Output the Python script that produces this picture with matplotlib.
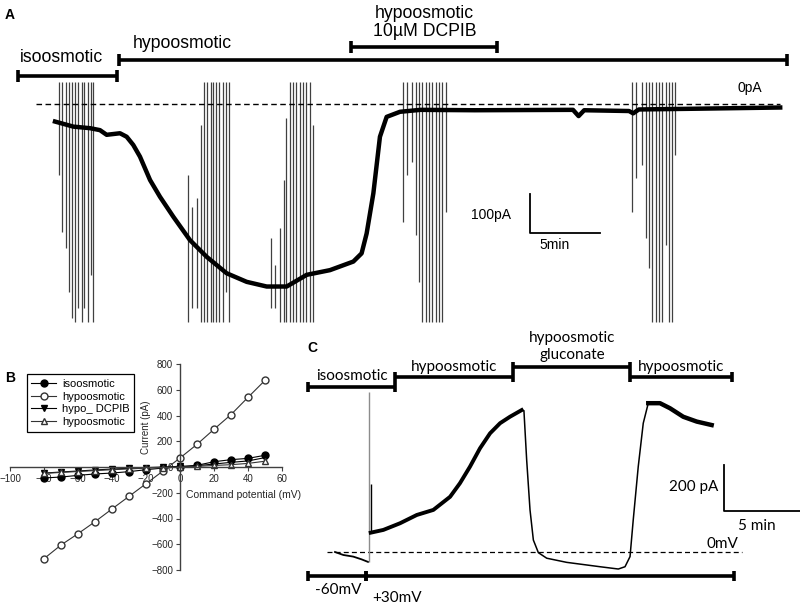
import matplotlib
matplotlib.use("Agg")
import matplotlib.pyplot as plt
import numpy as np

# ---- panel A: whole-cell current trace (min, pA)
a_time = [0, 1.31, 2.5, 3.21, 3.69, 4.64, 5.12, 5.59, 6.07, 6.79, 7.5, 8.45,
          9.64, 10.84, 12.26, 13.69, 15.12, 16.55, 17.98, 19.64, 21.31, 21.9,
          22.26, 22.74, 23.21, 23.69, 24.64, 26.1, 30.0, 37.0, 37.4, 37.8,
          41.0, 41.3, 41.7, 46.0, 51.8]
a_current = [-45, -58, -62, -67, -79, -75, -84, -105, -135, -195, -238, -289,
             -349, -392, -434, -456, -468, -468, -438, -426, -404, -383,
             -332, -229, -84, -33, -20, -15, -16, -15, -31, -16,
             -18, -24, -14, -12, -9]

# voltage-ramp deflections: time, top, bottom (pA)
ramp_time = [0.29, 0.5, 0.79, 1.0, 1.21, 1.43, 1.64, 1.93, 2.07, 2.36, 2.57, 2.71,
             9.5, 9.79, 10.14, 10.43, 10.64, 10.86, 11.14, 11.29, 11.5, 11.71, 12.0, 12.21, 12.43,
             15.43, 15.71, 16.07, 16.36, 16.5, 16.79, 17.0, 17.21, 17.5, 17.71, 17.93, 18.21, 18.43,
             24.86, 25.14, 25.5, 25.79, 26.0, 26.21, 26.5, 26.71, 26.93, 27.21, 27.43, 27.64, 27.93,
             41.21, 41.5, 41.93, 42.21, 42.43, 42.64, 42.93, 43.14, 43.36, 43.64, 43.86, 44.07, 44.29]
ramp_top = [56] * 12 + \
    [-182, -264, -241, -54, 56, 56, 56, 56, 56, 56, 56, 56, 56] + \
    [-344, -413, -318, -195, -36, 56, 56, 56, 56, 56, 56, 56, -54] + \
    [56] * 13 + [56] * 13
ramp_bottom = [-182, -328, -369, -482, -549, -559, -523, -559, -523, -559, -438, -559] + \
    [-559, -523, -523, -559, -559, -559, -559, -559, -559, -559, -559, -482, -559] + \
    [-523, -523, -559, -559, -559, -559, -559, -559, -559, -559, -559, -559, -559] + \
    [-303, -182, -149, -336, -456, -559, -559, -559, -559, -559, -559, -559, -277] + \
    [-277, -190, -156, -344, -421, -559, -559, -559, -559, -362, -559, -559, -131]

# solution bars (start, end in min)
a_bars = {"isoosmotic": (-2.64, 4.43), "hypoosmotic": (4.57, 52.29),
          "dcpib": (21.14, 31.57)}

# ---- panel B: I-V relation
b_voltage = [-80, -70, -60, -50, -40, -30, -20, -10, 0, 10, 20, 30, 40, 50]
b_iso = [-85, -78, -65, -54, -47, -36, -21, -8, 0, 13, 41, 57, 67, 91]
b_hypo = [-712, -606, -518, -425, -326, -228, -130, -31, 70, 176, 293, 407, 541, 673]
b_dcpib = [-47, -39, -31, -23, -16, -10, -5, 0, 5, 10, 23, 36, 47, 73]
b_hypo2 = [-50, -42, -35, -28, -21, -15, -9, -4, 0, 5, 12, 18, 28, 45]

# ---- panel C: current trace (min, pA)
c_neg_time = [0, 0.55, 1.2, 1.75, 2.17]
c_neg_current = [0, -13, -20, -32, -43]
c_rise_time = [2.35, 3.18, 4.28, 5.38, 6.47, 7.57, 8.22, 8.88, 9.54, 10.2,
               10.86, 11.51, 12.28]
c_rise_current = [84, 96, 125, 161, 183, 240, 299, 371, 451, 516, 560, 588, 617]
c_fall_time = [12.28, 12.43, 12.61, 12.83, 13.05, 13.38, 13.93, 15.24, 17.43,
               18.64, 19.08, 19.41, 19.62, 19.95, 20.28, 20.61]
c_fall_current = [617, 614, 400, 183, 52, -3, -27, -45, -64, -74, -64, -20,
                  139, 371, 560, 647]
c_tail_time = [20.61, 21.38, 22.04, 22.91, 23.8, 24.78]
c_tail_current = [647, 647, 625, 588, 567, 552]
c_spike = (2.24, -43, 696)

c_top_bars = [("isoosmotic", -1.78, 3.95, 717), ("hypoosmotic", 3.95, 11.71, 761),
              ("gluconate", 11.71, 19.41, 804), ("hypoosmotic", 19.41, 26.12, 761)]
c_volt_bars = [("-60mV", -1.78, 2.04), ("+30mV", 2.04, 26.25)]

ARIAL = "Liberation Sans"
CAL = "Lato"


def bar(ax, x0, x1, y, cap, lw=2.6):
    ax.plot([x0, x1], [y, y], color="black", lw=lw, solid_capstyle="butt")
    ax.vlines([x0, x1], y - cap, y + cap, color="black", lw=lw)


fig = plt.figure(figsize=(8, 6.05), dpi=100)

# ---------------- A
axA = fig.add_axes([0, 1 - 345 / 605, 1, 345 / 605])
axA.set_xlim(-55 / 14, 745 / 14)
axA.set_ylim(-(345 - 104) / 0.39, 104 / 0.39)
axA.axis("off")

axA.vlines(ramp_time, ramp_bottom, ramp_top, colors="0.25", lw=0.9, zorder=1)
axA.plot(a_time, a_current, color="black", lw=3.2, zorder=3, solid_joinstyle="round")
axA.plot([-1.36, 51.8], [0, 0], color="black", lw=1, ls=(0, (4, 2.5)), zorder=2)
axA.text(49.6, 41, "0pA", ha="center", va="center", fontsize=10, family=ARIAL)

capA = 15
bar(axA, *a_bars["isoosmotic"], 72, capA)
bar(axA, *a_bars["hypoosmotic"], 113, capA)
bar(axA, *a_bars["dcpib"], 146, capA)
axA.text(0.5, 118, "isoosmotic", ha="center", va="center", fontsize=12.7, family=ARIAL)
axA.text(9.1, 154, "hypoosmotic", ha="center", va="center", fontsize=12.7, family=ARIAL)
axA.text(26.4, 209, "hypoosmotic\n10\u00b5M DCPIB", ha="center", va="center",
         fontsize=12.7, family=ARIAL, linespacing=1.15)

# scale bar
sx, sy = 33.9, -331
axA.plot([sx, sx, sx + 5], [sy + 100, sy, sy], color="black", lw=1.3)
axA.text(32.6, -285, "100pA", ha="right", va="center", fontsize=10, family=ARIAL)
axA.text(35.7, -362, "5min", ha="center", va="center", fontsize=10, family=ARIAL)

# ---------------- B
axB = fig.add_axes([10 / 800, 35 / 605, 272 / 800, 206 / 605])
axB.set_xlim(-100, 60)
axB.set_ylim(-800, 800)
for s in ["top", "right"]:
    axB.spines[s].set_visible(False)
axB.spines["left"].set_position(("data", 0))
axB.spines["bottom"].set_position(("data", 0))
for s in ["left", "bottom"]:
    axB.spines[s].set_color("0.25")
    axB.spines[s].set_linewidth(1)
axB.set_xticks(np.arange(-100, 61, 20))
axB.set_yticks(np.arange(-800, 801, 200))
axB.tick_params(labelsize=7, length=3, width=0.8, colors="0.25", pad=2)
for lab in axB.get_xticklabels() + axB.get_yticklabels():
    lab.set_family(ARIAL)
    lab.set_color("0.15")
axB.set_xlabel("Command potential (mV)", fontsize=7.5, family=ARIAL, color="0.15")
axB.set_ylabel("Current (pA)", fontsize=7, family=ARIAL, color="0.15")
axB.xaxis.set_label_coords(0.857, 0.39)
axB.yaxis.set_label_coords(0.52, 0.694)

ms = 5
axB.plot(b_voltage, b_iso, "-o", color="black", mfc="black", ms=ms, lw=0.8, label="isoosmotic")
axB.plot(b_voltage, b_hypo, "-o", color="0.2", mfc="white", mec="0.2", ms=ms, lw=0.8, label="hypoosmotic")
axB.plot(b_voltage, b_dcpib, "-v", color="black", mfc="black", ms=ms, lw=0.8, label="hypo_ DCPIB")
axB.plot(b_voltage, b_hypo2, "-^", color="0.2", mfc="white", mec="0.2", ms=ms, lw=0.8, label="hypoosmotic")
leg = axB.legend(loc="upper left", bbox_to_anchor=(0.062, 0.95), borderaxespad=0,
                 prop={"family": ARIAL, "size": 8}, fancybox=False, edgecolor="black",
                 framealpha=1, handlelength=2.2, labelspacing=0.25, borderpad=0.4,
                 handletextpad=0.6)
leg.get_frame().set_linewidth(0.9)

# ---------------- C
axC = fig.add_axes([300 / 800, 0, 500 / 800, 280 / 605])
axC.set_xlim((300 - 335) / 15.2, (800 - 335) / 15.2)
axC.set_ylim((552 - 605) / 0.23, (552 - 325) / 0.23)
axC.axis("off")

axC.plot([-0.53, 26.78], [0, 0], color="black", lw=0.9, ls=(0, (4, 2.5)))
axC.plot(c_neg_time, c_neg_current, color="black", lw=1.3)
axC.vlines(c_spike[0], c_spike[1], c_spike[2], colors="0.55", lw=1)
axC.vlines(c_spike[0] + 0.1, c_rise_current[0], c_rise_current[0] + 210, colors="black", lw=1)
axC.plot(c_rise_time, c_rise_current, color="black", lw=2.8, solid_joinstyle="round")
axC.plot(c_fall_time, c_fall_current, color="black", lw=1.1)
axC.plot(c_tail_time, c_tail_current, color="black", lw=3.2, solid_joinstyle="round")

capC = 22
for name, x0, x1, y in c_top_bars:
    bar(axC, x0, x1, y, capC, lw=2.6)
for name, x0, x1 in c_volt_bars:
    bar(axC, x0, x1, -104, capC, lw=2.6)

axC.text(1.12, 765, "isoosmotic", ha="center", va="center", fontsize=11, family=CAL)
axC.text(7.83, 806, "hypoosmotic", ha="center", va="center", fontsize=11, family=CAL)
axC.text(15.59, 892, "hypoosmotic\ngluconate", ha="center", va="center", fontsize=11,
         family=CAL, linespacing=1.25)
axC.text(22.76, 806, "hypoosmotic", ha="center", va="center", fontsize=11, family=CAL)
axC.text(0.2, -165, "-60mV", ha="center", va="center", fontsize=11, family=CAL)
axC.text(4.08, -200, "+30mV", ha="center", va="center", fontsize=11, family=CAL)
axC.text(25.5, 3, "0mV", ha="center", va="bottom", fontsize=11, family=CAL)

cx, cy = 25.59, 178
axC.plot([cx, cx, cx + 5], [cy + 200, cy, cy], color="black", lw=1.3)
axC.text(25.2, 283, "200 pA", ha="right", va="center", fontsize=11, family=CAL)
axC.text(27.76, 113, "5 min", ha="center", va="center", fontsize=11, family=CAL)

# panel letters
fig.text(10 / 800, 1 - 15 / 605, "A", ha="center", va="center", fontsize=10, weight="bold", family=ARIAL)
fig.text(10 / 800, 1 - 378 / 605, "B", ha="center", va="center", fontsize=10, weight="bold", family=ARIAL)
fig.text(312 / 800, 1 - 348 / 605, "C", ha="center", va="center", fontsize=10, weight="bold", family=ARIAL)

fig.savefig("out.png", dpi=100)
